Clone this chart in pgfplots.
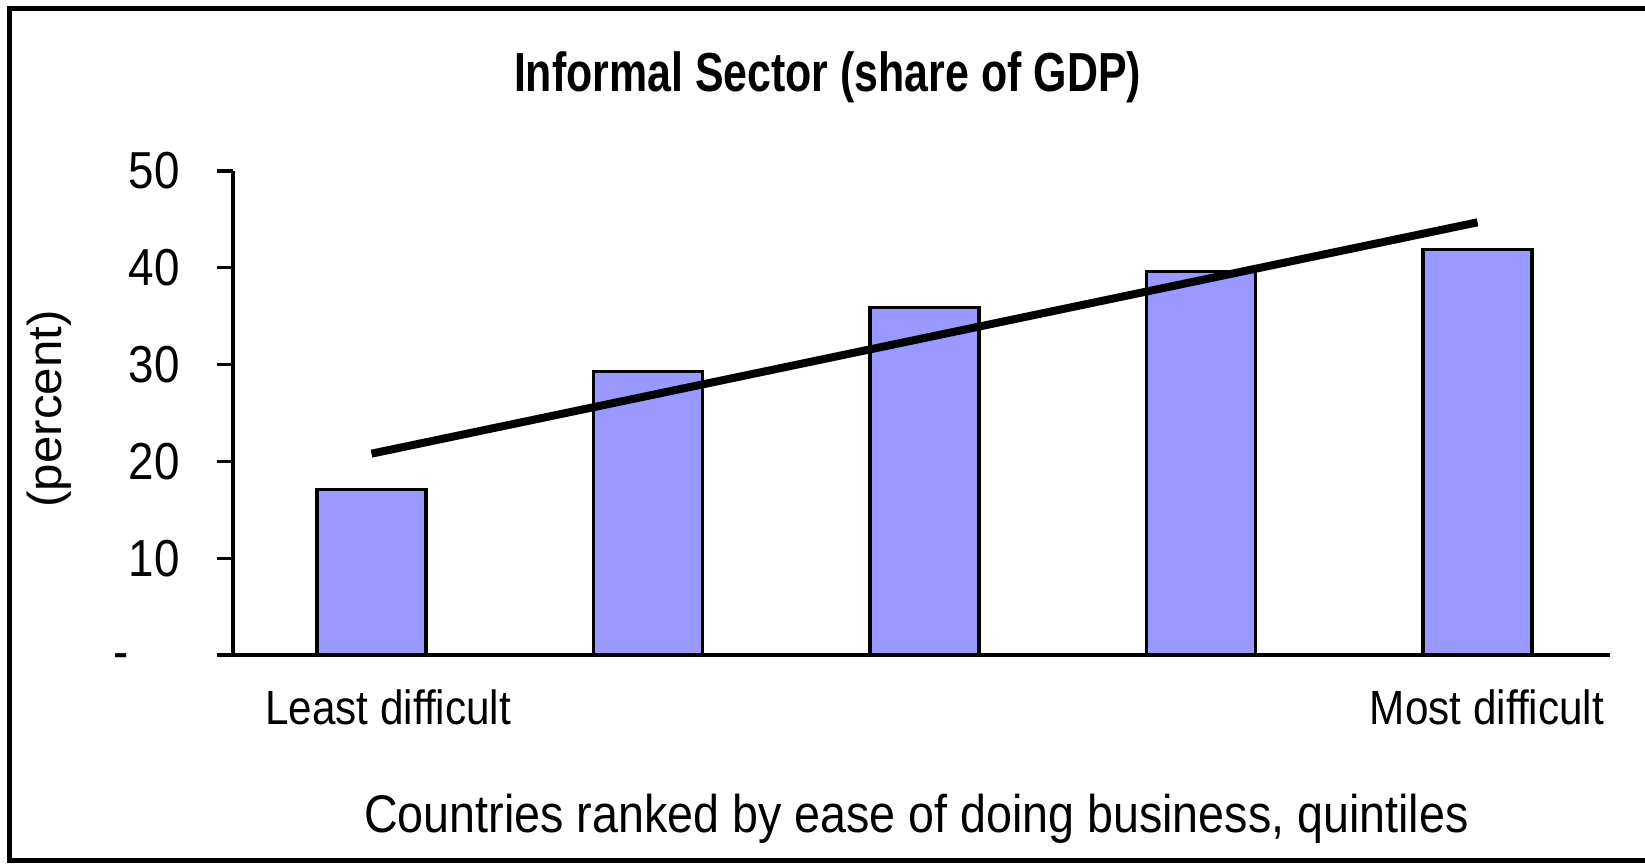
\documentclass[border=0pt]{standalone}
\usepackage{fontspec}
\usepackage{graphicx}
\setmainfont{Liberation Sans}[FakeStretch=0.88]
\newfontfamily\titlefont{Liberation Sans}[FakeStretch=0.78]
\usepackage{pgfplots}
\pgfplotsset{compat=1.18}
\definecolor{barblue}{RGB}{153,153,255}
\begin{document}
\begin{tikzpicture}
\begin{axis}[
  at={(116.5pt,104pt)}, anchor=south west,
  scale only axis, width=688.5pt, height=242pt,
  xmin=-0.501, xmax=4.479, ymin=0, ymax=50,
  axis lines=left, axis line style={-, line width=1.6pt},
  ytick={0,10,20,30,40,50},
  yticklabels={\raisebox{0pt}[0.54em][0pt]{-}\hspace*{25.5pt},10,20,30,40,50},
  tick align=outside, major tick length=8pt,
  y tick style={line width=1.6pt, black},
  xtick={0.06,4.034}, xticklabels={Least difficult,Most difficult},
  x tick style={draw=none},
  xticklabel style={font=\fontsize{24pt}{29pt}\selectfont, anchor=base, inner sep=0pt, yshift=-26.5pt},
  yticklabel style={font=\fontsize{26pt}{31pt}\selectfont, anchor=east, inner sep=0pt, xshift=-18.4pt},
  clip=false,
]
\addplot[ybar, bar width=0.394, fill=barblue, draw=black, line width=1.6pt]
  coordinates {(0,17.1) (1,29.3) (2,35.9) (3,39.6) (4,41.9)};
\addplot[black, line width=4pt] coordinates {(0,20.8) (4,44.7)};
\end{axis}
\node[anchor=base] at (413.75pt,385.5pt) {\titlefont\bfseries\fontsize{27.5pt}{32pt}\selectfont Informal Sector (share of GDP)};
\node[anchor=base] at (458.25pt,15.5pt) {\fontsize{26.5pt}{32pt}\selectfont Countries ranked by ease of doing business, quintiles};
\node[rotate=90, anchor=center] at (24.5pt,227pt) {\scalebox{1}[0.85]{\fontsize{28pt}{33pt}\selectfont (percent)}};
\draw[line width=2.5pt] (830pt,1.5pt) -- (4.75pt,1.5pt) -- (4.75pt,427.25pt) -- (830pt,427.25pt);
\pgfresetboundingbox
\path[use as bounding box] (0,0) rectangle (822.5pt,431.5pt);
\end{tikzpicture}
\end{document}
